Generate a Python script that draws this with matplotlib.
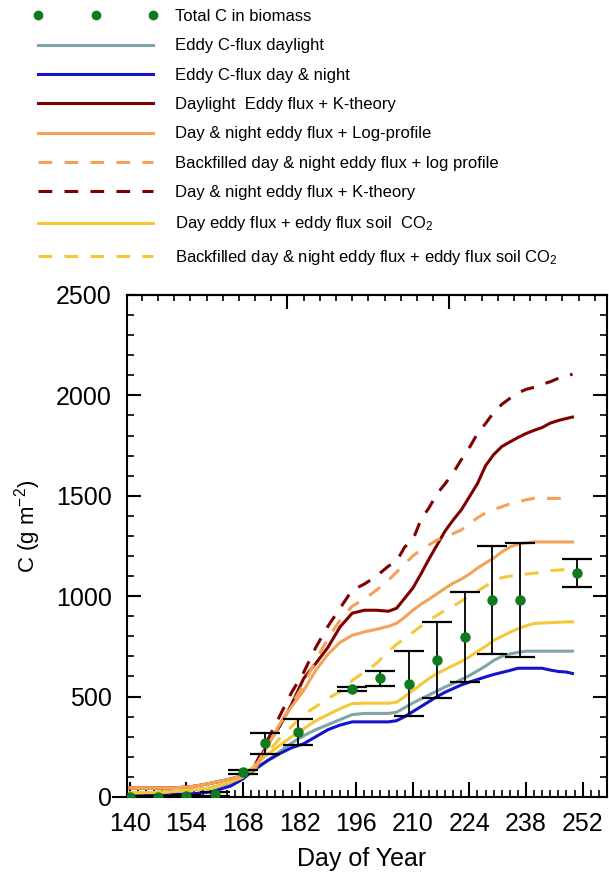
import numpy as np
import matplotlib.pyplot as plt
from matplotlib.lines import Line2D
from matplotlib.ticker import MultipleLocator, FixedLocator, NullFormatter

plt.rcParams['font.family'] = ['Liberation Sans', 'DejaVu Sans']
plt.rcParams['mathtext.default'] = 'regular'

# day of year for the cumulative curves
days = [140, 145, 150, 155, 160, 165, 168, 171, 174, 177, 180, 183, 186, 189, 192, 195,
        198, 201, 204, 206, 208, 210, 212, 214, 216, 218, 220, 222, 224, 226, 228, 230,
        232, 234, 236, 238, 240, 242, 244, 246, 248, 249.5]

eddy_daylight = [20, 22, 25, 35, 45, 70, 100, 135, 180, 225, 268, 305, 335, 360, 385, 410,
                 416, 416, 416, 422, 445, 468, 488, 508, 528, 548, 565, 585, 605, 628, 652, 680,
                 700, 712, 720, 726, 726, 726, 726, 726, 726, 726]
eddy_daynight = [10, 10, 12, 15, 25, 55, 90, 140, 180, 215, 245, 265, 300, 335, 358, 374,
                 374, 374, 374, 380, 400, 425, 450, 475, 500, 522, 540, 558, 572, 585, 598, 610,
                 620, 630, 641, 641, 641, 641, 632, 625, 622, 615]
day_ktheory = [45, 45, 45, 50, 68, 90, 105, 150, 260, 350, 460, 590, 665, 745, 847, 915,
               930, 930, 925, 940, 990, 1040, 1110, 1185, 1255, 1325, 1380, 1430, 1495, 1561, 1650, 1705,
               1745, 1768, 1790, 1810, 1826, 1840, 1862, 1875, 1885, 1892]
dn_logprofile = [45, 45, 45, 50, 68, 90, 105, 140, 250, 360, 450, 530, 631, 710, 770, 805,
                 822, 835, 850, 865, 895, 930, 960, 985, 1012, 1040, 1065, 1085, 1110, 1140, 1165, 1190,
                 1220, 1245, 1258, 1265, 1270, 1270, 1270, 1270, 1270, 1270]
bf_logprofile = [45, 45, 45, 50, 68, 90, 105, 150, 250, 360, 460, 560, 680, 790, 880, 950,
                 985, 1030, 1080, 1120, 1160, 1200, 1230, 1255, 1280, 1295, 1312, 1330, 1362, 1390, 1415, 1432,
                 1445, 1460, 1470, 1480, 1487, 1487, 1487, 1487, 1487, 1487]
dn_ktheory = [45, 45, 45, 50, 68, 90, 105, 160, 280, 400, 520, 620, 745, 850, 940, 1030,
              1060, 1100, 1150, 1175, 1245, 1280, 1380, 1440, 1510, 1560, 1615, 1680, 1740, 1810, 1860, 1915,
              1955, 1985, 2012, 2030, 2040, 2055, 2068, 2085, 2098, 2105]
day_soil = [20, 22, 25, 35, 45, 75, 100, 160, 210, 255, 300, 340, 380, 410, 440, 465,
            467, 467, 467, 472, 500, 530, 560, 590, 615, 635, 655, 675, 698, 725, 750, 780,
            800, 820, 838, 852, 864, 866, 868, 870, 872, 872]
bf_soil = [20, 22, 25, 35, 45, 75, 100, 150, 220, 290, 350, 410, 450, 490, 525, 580,
           622, 665, 725, 760, 790, 820, 850, 880, 905, 930, 950, 975, 1004, 1025, 1050, 1075,
           1092, 1100, 1104, 1110, 1114, 1120, 1128, 1130, 1133, 1135]

# biomass samples
bio_days = [140, 147, 154, 161, 168, 173.5, 181.5, 195, 202, 209, 216, 223, 229.5, 236.5, 250.5]
bio_c = [0, 0, 5, 15, 125, 267, 325, 540, 590, 565, 681, 797, 980, 980, 1116]
bio_err = [5, 5, 5, 10, 10, 52, 65, 10, 35, 160, 190, 224, 268, 283, 70]

teal = '#80a4a8'
blue = '#1414cc'
dred = '#800000'
orange = '#f4a25a'
yellow = '#f5c83a'
green = '#0f7a1e'
dash = (0, (4.5, 4.0))

fig = plt.figure(figsize=(6.09, 8.73), dpi=100)
ax = fig.add_axes([0.2085, 0.0871, 0.788, 0.575])

lw = 2.2
l1, = ax.plot(days, eddy_daylight, color=teal, lw=lw, label='Eddy C-flux daylight')
l2, = ax.plot(days, eddy_daynight, color=blue, lw=lw, label='Eddy C-flux day & night')
l3, = ax.plot(days, day_ktheory, color=dred, lw=lw, label='Daylight  Eddy flux + K-theory')
l6, = ax.plot(days, dn_ktheory, color=dred, lw=lw, ls=dash, label='Day & night eddy flux + K-theory')
l7, = ax.plot(days, day_soil, color=yellow, lw=lw, label='Day eddy flux + eddy flux soil  CO$_2$')
l8, = ax.plot(days, bf_soil, color=yellow, lw=lw, ls=dash,
              label='Backfilled day & night eddy flux + eddy flux soil CO$_2$')
l5, = ax.plot(days, bf_logprofile, color=orange, lw=lw, ls=dash,
              label='Backfilled day & night eddy flux + log profile')
l4, = ax.plot(days, dn_logprofile, color=orange, lw=lw, label='Day & night eddy flux + Log-profile')

ax.errorbar(bio_days, bio_c, yerr=bio_err, fmt='o', color=green, ms=6.5, mec=green,
            ecolor='black', elinewidth=1.3, capsize=11, capthick=1.6, zorder=4)

ax.set_xlim(139.3, 258)
ax.set_ylim(0, 2500)
ax.set_xticks(np.arange(140, 253, 14))
ax.xaxis.set_minor_locator(MultipleLocator(2))
ax.yaxis.set_major_locator(MultipleLocator(500))
ax.yaxis.set_minor_locator(MultipleLocator(100))
ax.tick_params(axis='both', which='major', direction='in', labelsize=18, width=1.5)
ax.tick_params(axis='x', which='major', length=11, pad=11)
ax.tick_params(axis='y', which='major', length=10, pad=11, right=True)
ax.tick_params(axis='both', which='minor', direction='in', length=5, width=1.2)
ax.tick_params(axis='y', which='minor', right=True)
for s in ax.spines.values():
    s.set_linewidth(1.5)

top = ax.secondary_xaxis('top')
top.xaxis.set_major_locator(FixedLocator([179, 219]))
top.xaxis.set_minor_locator(FixedLocator(np.arange(143, 258, 4)))
top.xaxis.set_major_formatter(NullFormatter())
top.tick_params(which='major', direction='in', length=10, width=1.5)
top.tick_params(which='minor', direction='in', length=4, width=1.2)
top.spines['top'].set_linewidth(1.5)

# small outward stub of the x axis at the origin
ax.plot([-0.03, 0], [0, 0], transform=ax.transAxes, color='black', lw=1.5, clip_on=False)

ax.set_xlabel('Day of Year', fontsize=18)
ax.set_ylabel('C (g m$^{-2}$)', fontsize=16)
ax.xaxis.set_label_coords(0.49, -0.1)
ax.yaxis.set_label_coords(-0.175, 0.54)

bio_handle = Line2D([], [], ls='none', marker='o', color=green, ms=6, label='Total C in biomass')
fig.legend(handles=[bio_handle, l1, l2, l3, l4, l5, l6, l7, l8],
           loc='upper left', bbox_to_anchor=(33 / 609, 1 - 9 / 873), frameon=False,
           fontsize=12, numpoints=3, handlelength=7.5, handletextpad=1.0,
           labelspacing=0.86, borderpad=0, borderaxespad=0)

fig.savefig('out.png', dpi=100)
